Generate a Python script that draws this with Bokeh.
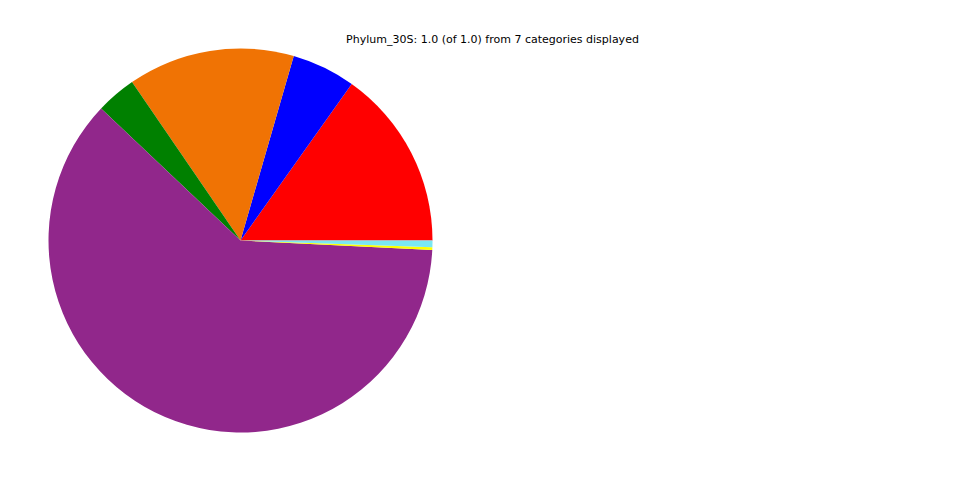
import numpy as np
from bokeh.plotting import figure
from bokeh.models import Range1d, ColumnDataSource
from bokeh.core.properties import value
from bokeh.embed import file_html
from bokeh.resources import INLINE

categories = ["Cat1", "Cat2", "Cat3", "Cat4", "Cat5", "Cat6", "Cat7"]
fractions = [0.1517, 0.0536, 0.1403, 0.0338, 0.6129, 0.0022, 0.0056]
colors = ["#FF0000", "#0000FF", "#F07304", "#008000", "#91278B", "#FFFF00", "#7AE8F2"]
title_text = "Phylum_30S: 1.0 (of 1.0) from 7 categories displayed"

fr = np.array(fractions) / np.sum(fractions)
ends = np.cumsum(fr) * 2 * np.pi
starts = np.concatenate([[0.0], ends[:-1]])

src = ColumnDataSource(dict(cat=categories, start=starts, end=ends, color=colors))

W, H = 944, 464
p = figure(width=W, height=H, output_backend="svg", toolbar_location=None,
           x_range=Range1d(0, 944), y_range=Range1d(16, 480), min_border=0)
p.axis.visible = False
p.grid.visible = False
p.outline_line_color = None
p.background_fill_color = "white"
p.border_fill_color = "white"

p.wedge(x=240, y=240, radius=192, start_angle="start", end_angle="end",
        color="color", line_color=None, source=src)

p.text(x=[492], y=[480 - 39], text=[title_text], text_align="center",
       text_baseline="middle", text_font=value("DejaVu Sans"),
       text_font_size="11px", text_color="black")

open("out.html", "w").write(file_html(p, INLINE))
